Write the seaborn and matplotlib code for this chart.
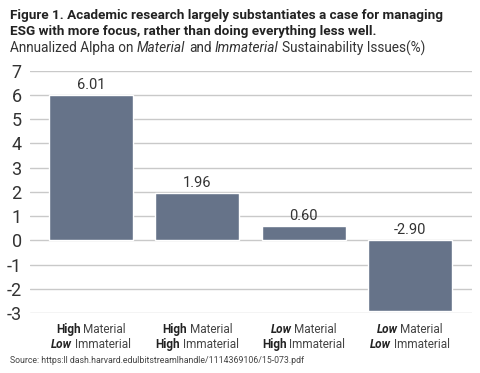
import matplotlib
matplotlib.use("Agg")
import matplotlib.pyplot as plt
import seaborn as sns
import pandas as pd
from matplotlib.offsetbox import TextArea, HPacker, VPacker, AnnotationBbox

# data
categories = ["HM_LI", "HM_HI", "LM_HI", "LM_LI"]
alpha_values = [6.01, 1.96, 0.60, -2.90]
material_level = ["High", "High", "Low", "Low"]
immaterial_level = ["Low", "High", "High", "Low"]
y_ticks = [-3, -2, -1, 0, 1, 2, 3, 4, 5, 6, 7]

BAR_COLOR = "#667389"
TEXT_COLOR = "#222222"
FONT = "Roboto"

sns.set_style("white")
plt.rcParams["font.family"] = [FONT, "DejaVu Sans"]
plt.rcParams["axes.unicode_minus"] = False

df = pd.DataFrame({"cat": categories, "alpha": alpha_values})

fig = plt.figure(figsize=(4.8, 3.73), dpi=100)
ax = fig.add_axes([0.0625, 0.161, 0.9205, 0.649])

sns.barplot(data=df, x="cat", y="alpha", color=BAR_COLOR, saturation=1,
            width=0.79, ax=ax, zorder=3)

ax.set_ylim(-3, 7)
ax.set_xlim(-0.574, 3.583)
ax.set_yticks(y_ticks)
ax.yaxis.grid(True, color="#c9c9c9", linewidth=1.0, zorder=0)
ax.set_axisbelow(True)
for s in ax.spines.values():
    s.set_visible(False)
ax.tick_params(axis="y", length=0, pad=6, labelsize=13, labelcolor="#333333")
ax.set_xticks([])
ax.set_xlabel("")
ax.set_ylabel("")

# value labels
for i, v in enumerate(alpha_values):
    ax.text(i, max(v, 0) + 0.12, f"{v:.2f}", ha="center", va="bottom",
            fontsize=10.5, color="#333333")


def level_area(word):
    style = "italic" if word == "Low" else "normal"
    return TextArea(word, textprops=dict(fontweight="bold", fontstyle=style,
                                         fontsize=8.5, color=TEXT_COLOR, family=FONT))


def plain_area(word):
    return TextArea(word, textprops=dict(fontsize=8.5, color="#444444", family=FONT))


# category labels with mixed styling
for i in range(len(categories)):
    row1 = HPacker(children=[level_area(material_level[i]), plain_area("Material")],
                   align="baseline", pad=0, sep=1.8)
    row2 = HPacker(children=[level_area(immaterial_level[i]), plain_area("Immaterial")],
                   align="baseline", pad=0, sep=1.8)
    box = VPacker(children=[row1, row2], align="center", pad=0, sep=2)
    ab = AnnotationBbox(box, (i, 0), xycoords=("data", "axes fraction"),
                        xybox=(0, -7), boxcoords="offset points",
                        box_alignment=(0.5, 1.0), frameon=False)
    ax.add_artist(ab)

# title
fig.text(0.021, 0.949, "Figure 1. Academic research largely substantiates a case for managing",
         fontsize=9.7, fontweight="bold", color=TEXT_COLOR, va="baseline")
fig.text(0.021, 0.906, "ESG with more focus, rather than doing everything less well.",
         fontsize=9.7, fontweight="bold", color=TEXT_COLOR, va="baseline")

sub_props = dict(fontsize=9.8, color="#333333", family=FONT)
sub = HPacker(children=[
    TextArea("Annualized Alpha on", textprops=sub_props),
    TextArea("Material", textprops=dict(sub_props, fontstyle="italic")),
    TextArea("and", textprops=sub_props),
    TextArea("Immaterial", textprops=dict(sub_props, fontstyle="italic")),
    TextArea("Sustainability Issues(%)", textprops=sub_props),
], align="baseline", pad=0, sep=2.5)
ab = AnnotationBbox(sub, (0.021, 0.892), xycoords="figure fraction",
                    box_alignment=(0, 1), frameon=False)
fig.add_artist(ab)

fig.text(0.021, 0.022, "Source: https:ll dash.harvard.edulbitstreamlhandle/1114369106/15-073.pdf",
         fontsize=6.3, color="#444444", va="bottom")

fig.savefig("out.png", dpi=100)
